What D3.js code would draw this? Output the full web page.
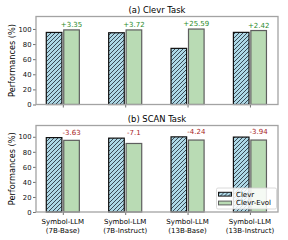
<!DOCTYPE html>
<html>
<head>
<meta charset="utf-8">
<script src="https://cdn.jsdelivr.net/npm/d3@7"></script>
<style>
  body { margin: 0; background: #fff; }
  svg text { font-family: "DejaVu Sans", sans-serif; }
</style>
</head>
<body>
<svg id="chart" width="288" height="240"></svg>
<script>
// data
var categories = [["Symbol-LLM", "(7B-Base)"], ["Symbol-LLM", "(7B-Instruct)"],
                  ["Symbol-LLM", "(13B-Base)"], ["Symbol-LLM", "(13B-Instruct)"]];
var seriesNames = ["Clevr", "Clevr-Evol"];
var clevrTaskClevr = [95.4, 95.0, 74.3, 95.5];
var clevrTaskEvol = [98.75, 98.72, 99.89, 97.92];
var clevrTaskDiff = ["+3.35", "+3.72", "+25.59", "+2.42"];
var scanTaskClevr = [98.9, 98.2, 99.9, 99.6];
var scanTaskEvol = [95.27, 91.1, 95.66, 95.66];
var scanTaskDiff = ["-3.63", "-7.1", "-4.24", "-3.94"];
var yTicks = [0, 20, 40, 60, 80, 100];

var svg = d3.select("#chart");
var left = 36, right = 278;

var defs = svg.append("defs");
var pat = defs.append("pattern")
	.attr("id", "hatch")
	.attr("patternUnits", "userSpaceOnUse")
	.attr("width", 4).attr("height", 4);
pat.append("rect").attr("width", 4).attr("height", 4).attr("fill", "#add8e6");
pat.append("path")
	.attr("d", "M-1,1 l2,-2 M0,4 l4,-4 M3,5 l2,-2")
	.attr("stroke", "#1c2530").attr("stroke-width", 0.8);

var x = d3.scaleLinear().domain([-0.43, 3.45]).range([left, right]);
var barW = 0.25, off = 0.14;

function drawPanel(top, bottom, ymax, title, clevr, evol, diffs, diffColor, showX) {
	var y = d3.scaleLinear().domain([0, ymax]).range([bottom, top]);
	var g = svg.append("g");

	g.append("text")
		.attr("x", (left + right) / 2).attr("y", top - 3.5)
		.attr("text-anchor", "middle")
		.style("font-size", "8.4px")
		.text(title);

	g.append("text")
		.attr("transform", "translate(12," + ((top + bottom) / 2) + ") rotate(-90)")
		.attr("text-anchor", "middle")
		.attr("dy", "0.35em")
		.style("font-size", "8.2px")
		.text("Performances (%)");

	// bars
	g.selectAll(".b1").data(clevr).enter().append("rect")
		.attr("x", function (d, i) { return x(i - off - barW / 2); })
		.attr("width", x(barW) - x(0))
		.attr("y", function (d) { return y(d); })
		.attr("height", function (d) { return bottom - y(d); })
		.attr("fill", "url(#hatch)")
		.attr("stroke", "#111").attr("stroke-width", 1.2);

	g.selectAll(".b2").data(evol).enter().append("rect")
		.attr("x", function (d, i) { return x(i + off - barW / 2); })
		.attr("width", x(barW) - x(0))
		.attr("y", function (d) { return y(d); })
		.attr("height", function (d) { return bottom - y(d); })
		.attr("fill", "#b9dbb4")
		.attr("stroke", "#5e5e5e").attr("stroke-width", 1.2);

	g.selectAll(".lbl").data(diffs).enter().append("text")
		.attr("x", function (d, i) { return x(i + off); })
		.attr("y", function (d, i) { return y(Math.max(clevr[i], evol[i]) + 1) - 2; })
		.attr("text-anchor", "middle")
		.attr("fill", diffColor)
		.style("font-size", "7px")
		.text(function (d) { return d; });

	// axes
	var yAxis = d3.axisLeft(y).tickValues(yTicks).tickSize(3).tickPadding(1.5);
	var ya = g.append("g").attr("transform", "translate(" + left + ",0)").call(yAxis);
	ya.select(".domain").remove();
	ya.selectAll("text").style("font-size", "6.8px").attr("fill", "#111");
	ya.selectAll("line").attr("stroke", "#333").attr("stroke-width", 0.7);

	var xAxis = d3.axisBottom(x).tickValues([0, 1, 2, 3]).tickSize(3).tickFormat("");
	var xa = g.append("g").attr("transform", "translate(0," + bottom + ")").call(xAxis);
	xa.select(".domain").remove();
	xa.selectAll("line").attr("stroke", "#333").attr("stroke-width", 0.7);

	if (showX) {
		var lab = g.selectAll(".xl").data(categories).enter().append("text")
			.attr("x", function (d, i) { return x(i); })
			.attr("y", bottom + 11.5)
			.attr("text-anchor", "middle")
			.style("font-size", "7px");
		lab.append("tspan").attr("x", function (d, i) { return x(i); }).text(function (d) { return d[0]; });
		lab.append("tspan").attr("x", function (d, i) { return x(i); }).attr("dy", 9).text(function (d) { return d[1]; });
	}

	g.append("rect")
		.attr("x", left).attr("y", top)
		.attr("width", right - left).attr("height", bottom - top)
		.attr("fill", "none")
		.attr("stroke", "#a3a3a3").attr("stroke-width", 1.3);
	return g;
}

drawPanel(16.5, 104.5, 116.5, "(a) Clevr Task", clevrTaskClevr, clevrTaskEvol, clevrTaskDiff, "#2b8a2b", false);
var g2 = drawPanel(125.5, 212, 115, "(b) SCAN Task", scanTaskClevr, scanTaskEvol, scanTaskDiff, "#a81e1e", true);

// legend
var lg = g2.append("g").attr("transform", "translate(216.5,188)");
lg.append("rect").attr("width", 60).attr("height", 21).attr("rx", 1.5)
	.attr("fill", "#fff").attr("fill-opacity", 0.85)
	.attr("stroke", "#d0d0d0").attr("stroke-width", 0.8);
var fills = ["url(#hatch)", "#b9dbb4"], strokes = ["#111", "#5e5e5e"];
seriesNames.forEach(function (name, i) {
	lg.append("rect").attr("x", 2).attr("y", 4.3 + i * 8.8).attr("width", 13).attr("height", 3.8)
		.attr("fill", fills[i]).attr("stroke", strokes[i]).attr("stroke-width", 1);
	lg.append("text").attr("x", 19.5).attr("y", 8.6 + i * 8.8)
		.style("font-size", "7px").text(name);
});
</script>
</body>
</html>
